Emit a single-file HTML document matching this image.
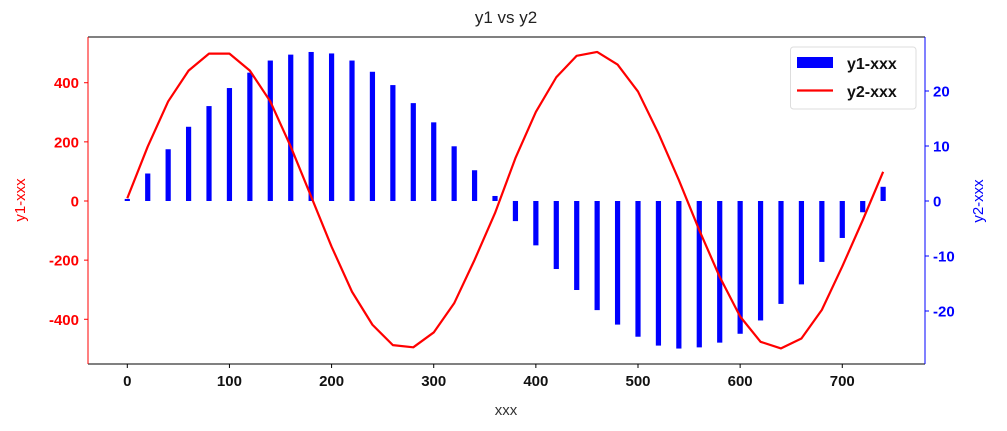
<!DOCTYPE html>
<html><head><meta charset="utf-8"><style>
body{margin:0;background:#fff;}
svg text{font-family:"Liberation Sans","Noto Sans CJK SC",sans-serif;}
</style></head><body>
<svg id="chart" width="1007" height="426" xmlns="http://www.w3.org/2000/svg"></svg>
<script>
const categories=[0,20,40,60,80,100,120,140,160,180,200,220,240,260,280,300,320,340,360,380,400,420,440,460,480,500,520,540,560,580,600,620,640,660,680,700,720,740];
const y1Values=[7,93,175,251,321,382,434,475,495,504,499,475,437,392,331,266,185,104,17,-68,-150,-230,-301,-369,-418,-459,-489,-499,-495,-479,-449,-404,-348,-282,-206,-125,-38,48];
const y2Values=[0.5,9.9,18.1,23.7,26.8,26.8,23.7,18.1,9.9,0.8,-8.3,-16.5,-22.5,-26.2,-26.6,-23.9,-18.6,-10.7,-2.2,7.8,16.2,22.5,26.4,27.1,24.8,19.9,12.3,3.8,-5.3,-13.8,-21,-25.6,-26.8,-25,-19.8,-11.9,-3.5,5.3];
const xTicks=[0,100,200,300,400,500,600,700];
const y1Ticks=[-400,-200,0,200,400];
const y2Ticks=[-20,-10,0,10,20];

const PL=88,PR=925,PT=37,PB=364;
const X=v=>127.3+v*1.0214;
const Y1=v=>201-v*0.2957;
const Y2=v=>201-v*5.5;
const svg=document.getElementById('chart');
const NS='http://www.w3.org/2000/svg';
function mk(tag,attrs,parent){const e=document.createElementNS(NS,tag);for(const k in attrs)e.setAttribute(k,attrs[k]);(parent||svg).appendChild(e);return e;}

const bars=mk('g',{});


categories.forEach((c,i)=>{
  const v=y1Values[i];const y0=Y1(0),y=Y1(v);
  const r=mk('rect',{x:X(c)-2.6,y:Math.min(y0,y),width:5.2,height:Math.abs(y-y0),fill:'#0000ff'},bars);
  
  
});
const line=mk('polyline',{points:categories.map((c,i)=>X(c)+','+Y2(y2Values[i])).join(' '),fill:'none',stroke:'#ff0000','stroke-width':2.2,'stroke-linejoin':'round'});



const topSpine=mk('line',{x1:PL,y1:PT,x2:PR,y2:PT,stroke:'#000','stroke-width':1});


const botSpine=mk('line',{x1:PL,y1:PB,x2:PR,y2:PB,stroke:'#000','stroke-width':1});


const leftSpine=mk('line',{x1:PL,y1:PT,x2:PL,y2:PB,stroke:'#ff0000','stroke-width':1});


const rightSpine=mk('line',{x1:PR,y1:PT,x2:PR,y2:PB,stroke:'#0000ff','stroke-width':1});



xTicks.forEach(t=>{
  mk('line',{x1:X(t),y1:PB,x2:X(t),y2:PB+4,stroke:'#000'});
  const tx=mk('text',{x:X(t),y:PB+22,'text-anchor':'middle','font-size':15,'font-weight':'bold',fill:'#111'});
  tx.textContent=t;
  
  
});
y1Ticks.forEach(t=>{
  mk('line',{x1:PL-4,y1:Y1(t),x2:PL,y2:Y1(t),stroke:'#ff0000'});
  const tx=mk('text',{x:PL-9,y:Y1(t)+5.5,'text-anchor':'end','font-size':15,'font-weight':'bold',fill:'#ff0000'});
  tx.textContent=t;
  
  
});
y2Ticks.forEach(t=>{
  mk('line',{x1:PR,y1:Y2(t),x2:PR+4,y2:Y2(t),stroke:'#0000ff'});
  const tx=mk('text',{x:PR+8,y:Y2(t)+5.5,'text-anchor':'start','font-size':15,'font-weight':'bold',fill:'#0000ff'});
  tx.textContent=t;
  
  
});
</script>
<svg width="1007" height="426" style="position:absolute;left:0;top:0" xmlns="http://www.w3.org/2000/svg">
<text x="506" y="23" text-anchor="middle" font-size="17" fill="#222" font-family="Liberation Sans, sans-serif">y1 vs y2</text>
<text x="506" y="415" text-anchor="middle" font-size="15" fill="#333" font-family="Liberation Sans, sans-serif">xxx</text>
<text transform="translate(25,200) rotate(-90)" text-anchor="middle" font-size="15" fill="#ff0000" font-family="Liberation Sans, sans-serif">y1-xxx</text>
<text transform="translate(983,201) rotate(-90)" text-anchor="middle" font-size="15" fill="#0000ff" font-family="Liberation Sans, sans-serif">y2-xxx</text>
<g>
<rect x="790.5" y="47" width="125.5" height="62" rx="3" fill="#fff" stroke="#ddd"/>
<rect x="797" y="57" width="36" height="11" fill="#0000ff"/>
<text x="847" y="69" font-size="16" font-weight="bold" fill="#111" font-family="Liberation Sans, sans-serif">y1-xxx</text>
<line x1="797" y1="90.5" x2="833" y2="90.5" stroke="#ff0000" stroke-width="2.2"/>
<text x="847" y="97" font-size="16" font-weight="bold" fill="#111" font-family="Liberation Sans, sans-serif">y2-xxx</text>
</g>
</svg>
</body></html>
